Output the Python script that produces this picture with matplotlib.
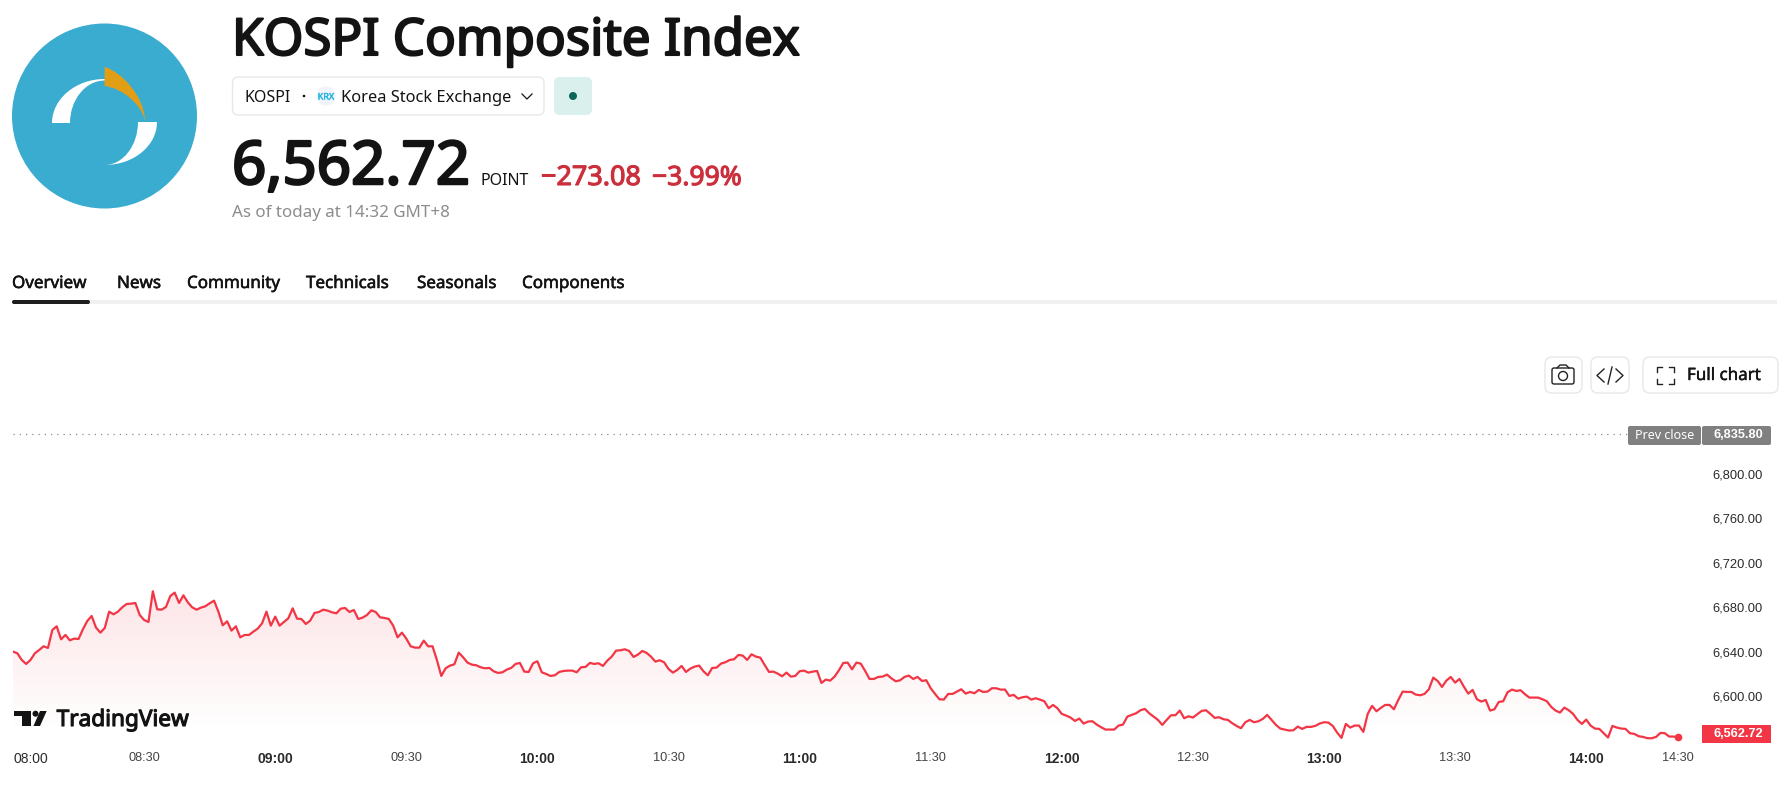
import matplotlib
matplotlib.use("Agg")
import matplotlib.pyplot as plt
import matplotlib.patheffects as pe
import numpy as np
from matplotlib.patches import Circle, FancyBboxPatch, PathPatch, Polygon, Rectangle
from matplotlib.path import Path

plt.rcParams['font.family'] = ['Noto Sans', 'DejaVu Sans']

# index value per minute, starting at 08:00
prices_0800 = [6640, 6638.5, 6632.5, 6628.9, 6632.5, 6638.5, 6641.5, 6644.8, 6643.3, 6659.5, 6662.8, 6651.1, 6655, 6650.2, 6651.7, 6651.4, 6660.1, 6667.6, 6672.1, 6661.6, 6657.1, 6661.3, 6676, 6673.6, 6676, 6679.9, 6682.9, 6683.2, 6683.8, 6673, 6668.5, 6666.7, 6694.3, 6678.1, 6677.8, 6680.2, 6690.1, 6693.1, 6683.8, 6690.7, 6684.4, 6679.9, 6677.8, 6679.6, 6680.8, 6683.5, 6685.9, 6676, 6663.7, 6667.3, 6658.9, 6662.8, 6652.9, 6655, 6655, 6658, 6660.7, 6665.5, 6676, 6663.4, 6671.5, 6663.4, 6666.7, 6670, 6679, 6669.7, 6669.4, 6664.9, 6667.9, 6674.8, 6675.7, 6677.8, 6676.9, 6675.4, 6674.5, 6678.7, 6679.3, 6675.7, 6677.5, 6669.4, 6670.6, 6673, 6677.2, 6675.7, 6670.9, 6670.3, 6669.4, 6663.4, 6652.9, 6657.1, 6651.7, 6644.8, 6643.6, 6643.6, 6649.9, 6644.8, 6644.8, 6632.5, 6618.1]
prices_0939 = [6625, 6627.4, 6628.6, 6639.1, 6634.9, 6630.1, 6628.3, 6627.7, 6625.9, 6625, 6625.3, 6622.3, 6620.8, 6621.4, 6623.8, 6625.3, 6628.9, 6629.8, 6622, 6621.7, 6629.5, 6631.3, 6621.4, 6619.9, 6618.1, 6618.7, 6621.7, 6622.6, 6622.9, 6622.9, 6621.4, 6625.9, 6626.2, 6629.8, 6628.9, 6629.5, 6627.1, 6631.9, 6635.5, 6640.9, 6641.2, 6642.1, 6640.6, 6635.2, 6637.3, 6640.6, 6638.8, 6635.5, 6631, 6632.2, 6630.4, 6624.4, 6621.1, 6623.5, 6627.1, 6621.7, 6624.7, 6626.5, 6627.4, 6622.3, 6618.7, 6625.3, 6625.6, 6629.2, 6630.4, 6632.5, 6633.1, 6637, 6636.4, 6632.5, 6637.6, 6635.5, 6634.6, 6628, 6621.7, 6622, 6620.2, 6617.8, 6621.1, 6617.5, 6618.1, 6622.3, 6622.9, 6621.1, 6622, 6622.6, 6611.8, 6614.8, 6613.9, 6617.5, 6623.2, 6629.8, 6630.1, 6624.1, 6630.1, 6629.2, 6622.6, 6615.4, 6615.4, 6617.2, 6617.5, 6619.3]
prices_1121 = [6616, 6613.3, 6614.2, 6617.2, 6618.4, 6615.4, 6617.2, 6613.6, 6614.2, 6607, 6601.9, 6597.1, 6596.8, 6601.9, 6601.9, 6604, 6606.1, 6602.2, 6603.7, 6602.5, 6605.5, 6603.7, 6604, 6607, 6607, 6605.8, 6605.8, 6600.1, 6601, 6597.7, 6598.9, 6599.5, 6596.8, 6598, 6596.8, 6595.3, 6589, 6592, 6589, 6583.9, 6582.4, 6580.6, 6577.6, 6579.7, 6575.2, 6577, 6577.3, 6574.3, 6571.9, 6569.8, 6569.8, 6569.8, 6573.4, 6574.3, 6581.5, 6583, 6584.5, 6587.2, 6588.4, 6584.5, 6581.5, 6578.5, 6574, 6578.5, 6582.7, 6582.7, 6586.9, 6580, 6581.8, 6580.6, 6583.6, 6586.6, 6587.2, 6583.9, 6580.3, 6580.9, 6579.1, 6578.5, 6575.5, 6573.1, 6571, 6576.4, 6578.5, 6576.4, 6577.3, 6579.4, 6583, 6578.5, 6574, 6570.7, 6569.8, 6568.9, 6569.2, 6572.5, 6570.4, 6572.2, 6572.2, 6573.1, 6575.2]
prices_1300 = [6576.4, 6576.1, 6573.1, 6567.1, 6562.3, 6574.9, 6571.6, 6573.4, 6573.4, 6567.7, 6583.9, 6591.1, 6586.3, 6589.3, 6592, 6592, 6588.1, 6596.5, 6604, 6603.7, 6603.7, 6601.3, 6600.7, 6601.9, 6606.1, 6616.6, 6613.6, 6608.2, 6613.9, 6617.2, 6612.1, 6615.4, 6608.5, 6602.2, 6605.5, 6597.1, 6595, 6596.5, 6586.9, 6588.1, 6594.7, 6595.3, 6603.4, 6605.8, 6604.6, 6605.2, 6601.6, 6598.6, 6598.6, 6598.6, 6597.1, 6595.3, 6590.2, 6586.9, 6585.1, 6589.6, 6587.2, 6583.9, 6578.5, 6574.9, 6578.8, 6573.4, 6570.7, 6570.4, 6566.5, 6562.6, 6573.1, 6571.6, 6570.7, 6570.4, 6566.5, 6565.9, 6563.8, 6563.2, 6562, 6562, 6563.2, 6566.8, 6566.5, 6563.5, 6563.5, 6562.72]
prices = prices_0800 + prices_0939 + prices_1121 + prices_1300
minutes = list(range(len(prices)))

prev_close = 6835.80
last_price = 6562.72

time_ticks = [0, 30, 60, 90, 120, 150, 180, 210, 240, 270, 300, 330, 360, 381]
time_labels = ['08:00', '08:30', '09:00', '09:30', '10:00', '10:30', '11:00', '11:30', '12:00', '12:30', '13:00', '13:30', '14:00', '14:30']
hour_labels = ['08:00', '09:00', '10:00', '11:00', '12:00', '13:00', '14:00']
price_ticks = [6600, 6640, 6680, 6720, 6760, 6800, 6840]

W, H = 1791, 787
RED = '#f23645'

fig = plt.figure(figsize=(W / 100, H / 100), dpi=100)

# chart area, 13..1690 px wide and 425..745 px down
ax = fig.add_axes([13 / W, 1 - 745 / H, 1677 / W, 320 / H])
ymin, ymax = 6555.9, 6844.1

grad = np.zeros((256, 2, 4))
grad[..., :3] = matplotlib.colors.to_rgb(RED)
grad[..., 3] = np.linspace(0.13, 0.0, 256)[:, None]
im = ax.imshow(grad, extent=[0, 384, 6568, max(prices)], origin='upper', aspect='auto', zorder=1)
poly = ax.fill_between(minutes, prices, ymin, facecolor='none', edgecolor='none')
im.set_clip_path(poly.get_paths()[0], transform=ax.transData)

ax.plot(minutes, prices, color=RED, lw=1.6, zorder=3, solid_joinstyle='round')
ax.plot([minutes[-1]], [last_price], 'o', color=RED, ms=4.5, zorder=4)
ax.axhline(prev_close, color='#8a8a8a', lw=0.9, ls=(0, (1, 4)), zorder=2)

ax.set_xlim(0, 1677 / 4.37)
ax.set_ylim(ymin, ymax)
for s in ax.spines.values():
    s.set_visible(False)
ax.patch.set_alpha(0)

ax.set_xticks(time_ticks)
ax.set_xticklabels(time_labels, fontfamily='Liberation Sans')
ax.tick_params(axis='x', length=0, pad=5, colors='#2a2a2a')
for t in ax.get_xticklabels():
    if t.get_text() in hour_labels:
        t.set_fontsize(10)
        t.set_fontweight('bold' if t.get_text() != '08:00' else 'normal')
    else:
        t.set_fontsize(9.2)
        t.set_color('#444444')
ax.get_xticklabels()[0].set_ha('left')

ax.yaxis.tick_right()
ax.set_yticks(price_ticks)
ax.set_yticklabels([f'{v:,.2f}' for v in price_ticks], fontfamily='Liberation Sans', fontsize=9.3, color='#2a2a2a')
ax.tick_params(axis='y', length=0, pad=16)

# page furniture, in pixel coordinates
ui = fig.add_axes([0, 0, 1, 1], zorder=5)
ui.set_xlim(0, W)
ui.set_ylim(H, 0)
ui.axis('off')


def txt(x, y, s, size, heavy=0, **kw):
    kw.setdefault('va', 'baseline')
    t = ui.text(x, y, s, fontsize=size * 0.72, **kw)
    # Noto Sans has only the regular weight here, thicken it with a stroke
    if heavy:
        t.set_path_effects([pe.withStroke(linewidth=heavy, foreground=kw.get('color', 'black'))])
    return t


def box(x0, y0, x1, y1, r=5, fc='white', ec='#e8e8e8', lw=1.0):
    ui.add_patch(FancyBboxPatch((x0 + r, y0 + r), x1 - x0 - 2 * r, y1 - y0 - 2 * r,
                                boxstyle=f'round,pad={r}', fc=fc, ec=ec, lw=lw))


def shape(points, color):
    codes = [c for c, _ in points]
    verts = [v for _, v in points]
    ui.add_patch(PathPatch(Path(verts, codes), fc=color, ec='none'))


# round logo
ui.add_patch(Circle((104.5, 116), 92.5, fc='#3aaccf', ec='none'))
M, C, L, Z = Path.MOVETO, Path.CURVE4, Path.LINETO, Path.CLOSEPOLY
shape([(M, (104.6, 67)), (C, (122, 72)), (C, (145, 97)), (C, (145, 122)),
       (C, (143, 105)), (C, (122, 88)), (C, (104.6, 86)), (Z, (104.6, 67))], '#e29e14')
shape([(M, (104.6, 79)), (C, (75.7, 79)), (C, (52, 99)), (C, (52, 123)), (L, (70, 123)),
       (C, (70, 99.6)), (C, (85.6, 80.5)), (C, (104.6, 80.5)), (Z, (104.6, 79))], 'white')
shape([(M, (157, 122)), (C, (157, 145.6)), (C, (133.8, 165)), (C, (104.6, 165)),
       (C, (123, 165)), (C, (138, 145.6)), (C, (138, 122)), (Z, (157, 122))], 'white')

# title block
txt(232, 55, 'KOSPI Composite Index', 51, heavy=1.5, color='#131313')
box(232.5, 77, 544, 115, r=6)
txt(245, 102, 'KOSPI', 16, color='#131313')
ui.add_patch(Circle((304, 96), 1.3, fc='#131313', ec='none'))
ui.add_patch(Circle((326, 96), 9.5, fc='#f0f3fa', ec='none'))
txt(326, 99.5, 'KRX', 9, heavy=0.3, color='#22b5e0', ha='center')
txt(341, 102, 'Korea Stock Exchange', 16.5, color='#131313')
ui.plot([522, 527, 532], [94, 99, 94], color='#131313', lw=0.9)
box(554, 77, 592, 115, r=6, fc='#daf0ec', ec='none')
ui.add_patch(Circle((573, 96), 4, fc='#0b6654', ec='none'))

txt(232, 184, '6,562.72', 60, heavy=1.8, color='#131313')
txt(480, 185, 'POINT', 16, color='#131313')
txt(541, 185, '\u2212273.08', 27, heavy=0.8, color='#cc2f3c')
txt(652, 185, '\u22123.99%', 26.5, heavy=0.8, color='#cc2f3c')
txt(232, 217, 'As of today at 14:32 GMT+8', 17, color='#8c8c8c')

# tabs
tab_names = ['Overview', 'News', 'Community', 'Technicals', 'Seasonals', 'Components']
tab_x = [12, 117, 187, 306, 417, 522]
for name, x in zip(tab_names, tab_x):
    txt(x, 288, name, 17, heavy=0.4, color='#131313')
ui.add_patch(Rectangle((12, 300), 1765, 4, fc='#f0f0f0', ec='none'))
box(12, 300, 90, 304, r=2, fc='#1e1e1e', ec='none')

# chart buttons
box(1545, 357, 1582, 393, r=7)
box(1591, 357, 1629, 393, r=7)
box(1643, 357, 1778, 393, r=7)
box(1552, 368, 1574, 384, r=2, fc='white', ec='#222222', lw=1.0)
ui.plot([1557, 1560, 1566, 1569], [368, 365, 365, 368], color='#222222', lw=1.0)
ui.add_patch(Circle((1563, 376), 4.5, fc='white', ec='#222222', lw=1.0))
ui.plot([1604, 1597, 1604], [369, 375.5, 382], color='#222222', lw=1.0)
ui.plot([1616, 1623, 1616], [369, 375.5, 382], color='#222222', lw=1.0)
ui.plot([1608, 1612], [384, 367], color='#222222', lw=1.0)
for xs, ys in [([1662, 1657, 1657], [367, 367, 372]), ([1669, 1674, 1674], [367, 367, 372]),
               ([1662, 1657, 1657], [384, 384, 379]), ([1669, 1674, 1674], [384, 384, 379])]:
    ui.plot(xs, ys, color='#222222', lw=1.0)
txt(1687, 380, 'Full chart', 17, heavy=0.3, color='#131313')

# price labels on the scale
box(1628, 426, 1701, 445, r=2, fc='#808080', ec='none')
box(1702, 426, 1771, 445, r=2, fc='#808080', ec='none')
txt(1664.5, 435.5, 'Prev close', 12.5, color='white', ha='center', va='center')
txt(1738, 435, f'{prev_close:,.2f}', 12.8, color='white', ha='center', va='center',
    fontweight='bold', family='Liberation Sans')
ui.add_patch(Rectangle((1702, 725), 69, 18, fc=RED, ec='none'))
txt(1738, 734, f'{last_price:,.2f}', 12.8, color='white', ha='center', va='center',
    fontweight='bold', family='Liberation Sans')

# TradingView mark
ui.add_patch(Polygon([(14.3, 711), (31, 711), (31, 726), (21.7, 726), (21.7, 716), (14.3, 716)], fc='#131313', ec='none'))
ui.add_patch(Circle((35.5, 713.7), 3, fc='#131313', ec='none'))
ui.add_patch(Polygon([(40, 711), (46.7, 711), (40, 726), (33.5, 726)], fc='#131313', ec='none'))
txt(56.7, 726, 'TradingView', 22.6, heavy=0.8, color='#131313')

fig.savefig('out.png', dpi=100, facecolor='white')
